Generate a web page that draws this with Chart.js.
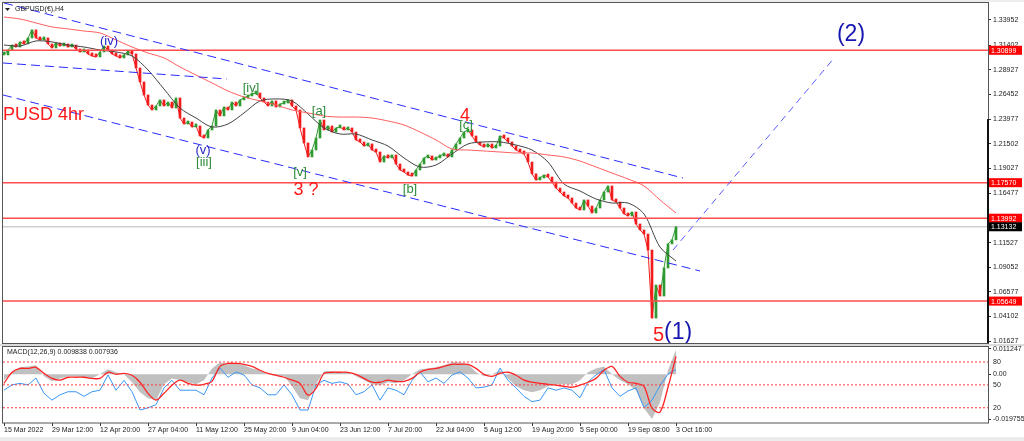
<!DOCTYPE html>
<html>
<head>
<meta charset="utf-8">
<title>GBPUSD H4</title>
<script src="https://cdn.jsdelivr.net/npm/chart.js@4.4.0/dist/chart.umd.min.js"></script>
<style>
  html, body { margin: 0; padding: 0; background: #fff; }
  #wrap { position: relative; width: 1024px; height: 441px; overflow: hidden; }
  #priceChart { position: absolute; left: 0; top: 0; }
  #macdChart { position: absolute; left: 0; top: 346px; }
</style>
</head>
<body>
<div id="wrap">
  <canvas id="priceChart" width="1024" height="346"></canvas>
  <canvas id="macdChart" width="1024" height="95"></canvas>
</div>
<script>
(function () {
  'use strict';

  // One slot = one candle column on the H4 chart. Closes are read every slot.
  const closes = [
    1.3043, 1.3093, 1.3143, 1.3123, 1.3174, 1.3154, 1.3214, 1.3295, 1.3214, 1.3194,
    1.3214, 1.3154, 1.3113, 1.3164, 1.3133, 1.3154, 1.3123, 1.3143, 1.3103, 1.3073,
    1.3093, 1.3053, 1.3033, 1.3023, 1.3073, 1.3133, 1.3093, 1.3053, 1.3033, 1.3013,
    1.3043, 1.3083, 1.3053, 1.2912, 1.2771, 1.2640, 1.2539, 1.2489, 1.2529, 1.2590,
    1.2529, 1.2569, 1.2509, 1.2610, 1.2408, 1.2348, 1.2368, 1.2318, 1.2328, 1.2227,
    1.2207, 1.2288, 1.2328, 1.2489, 1.2429, 1.2519, 1.2489, 1.2569, 1.2529, 1.2590,
    1.2610, 1.2630, 1.2650, 1.2660, 1.2610, 1.2569, 1.2529, 1.2580, 1.2519, 1.2549,
    1.2559, 1.2590, 1.2529, 1.2489, 1.2308, 1.2157, 1.2016, 1.2086, 1.2207, 1.2388,
    1.2288, 1.2328, 1.2267, 1.2308, 1.2318, 1.2288, 1.2308, 1.2267, 1.2187, 1.2167,
    1.2126, 1.2147, 1.2086, 1.2066, 1.1965, 1.2026, 1.2006, 1.2036, 1.1945, 1.1885,
    1.1865, 1.1834, 1.1824, 1.1885, 1.1945, 1.2006, 1.2026, 1.1985, 1.2006, 1.2026,
    1.2046, 1.2016, 1.2086, 1.2147, 1.2207, 1.2267, 1.2288, 1.2227, 1.2167, 1.2137,
    1.2116, 1.2147, 1.2106, 1.2126, 1.2227, 1.2207, 1.2167, 1.2126, 1.2086, 1.2066,
    1.2046, 1.1965, 1.1846, 1.1784, 1.1804, 1.1834, 1.1814, 1.1764, 1.1703, 1.1663,
    1.1623, 1.1603, 1.1552, 1.1502, 1.1482, 1.1583, 1.1522, 1.1452, 1.1502, 1.1583,
    1.1663, 1.1724, 1.1583, 1.1563, 1.1502, 1.1443, 1.1422, 1.1462, 1.1341, 1.1281,
    1.1240, 1.1079, 1.0394, 1.0727, 1.0616, 1.0898, 1.1141, 1.1181, 1.1313
  ];

  // Moving averages, read every 4 slots
  const maStep = 4;
  const maFast = [
    1.3143, 1.3133, 1.3184, 1.3174, 1.3143, 1.3123, 1.3093, 1.3073, 1.3033, 1.2892,
    1.2700, 1.2509, 1.2408, 1.2318, 1.2348, 1.2459, 1.2580, 1.2600, 1.2580, 1.2449,
    1.2308, 1.2247, 1.2247, 1.2187, 1.2126, 1.2006, 1.1915, 1.1935, 1.2046, 1.2147,
    1.2167, 1.2167, 1.2136, 1.2086, 1.1965, 1.1744, 1.1673, 1.1593, 1.1552, 1.1552,
    1.1442, 1.1109, 1.0968
  ];
  const maSlow = [
    1.3425, 1.3405, 1.3365, 1.3325, 1.3305, 1.3284, 1.3264, 1.3194, 1.3123, 1.3063,
    1.3013, 1.2922, 1.2841, 1.2761, 1.2680, 1.2620, 1.2580, 1.2539, 1.2489, 1.2459,
    1.2428, 1.2418, 1.2418, 1.2408, 1.2378, 1.2338, 1.2267, 1.2187, 1.2096, 1.2086,
    1.2076, 1.2066, 1.2056, 1.2056, 1.2036, 1.2016, 1.1975, 1.1915, 1.1854, 1.1794,
    1.1724, 1.1583, 1.1452
  ];

  const levels = [1.30899, 1.17570, 1.13992, 1.05649];
  const lastPrice = 1.13132;
  const priceTicks = [1.33952, 1.31402, 1.28927, 1.26452, 1.23977, 1.21502, 1.19027,
    1.16477, 1.11527, 1.09052, 1.06577, 1.04102, 1.01627];

  const dateTickSlots = [0, 12, 24, 36, 48, 60, 72, 84, 96, 108, 120, 132, 144, 156, 168];
  const dateTicks = ['15 Mar 2022', '29 Mar 12:00', '12 Apr 20:00', '27 Apr 04:00', '11 May 12:00',
    '25 May 20:00', '9 Jun 04:00', '23 Jun 12:00', '7 Jul 20:00', '22 Jul 04:00', '5 Aug 12:00',
    '19 Aug 20:00', '5 Sep 00:00', '19 Sep 08:00', '3 Oct 16:00'];

  // Trend lines as [slot, price] end points
  const channelTop = [[0, 1.3566], [169.75, 1.1804]];
  const channelMid = [[-0.25, 1.2962], [55.75, 1.2801]];
  const channelLow = [[-0.25, 1.2640], [174, 1.0868]];
  const projection = [[167.25, 1.1079], [207.75, 1.3023]];

  // Wave labels
  const waveText  = ['(iv)', '(v)', '[iii]', '[iv]', '[a]', '[v]', '3 ?', '4', '[c]', '[b]', '5', '(1)', '(2)', 'PUSD 4hr'];
  const waveSlot  = [26.25, 49.75, 50, 61.75, 78.75, 74, 75.5, 115.25, 115.5, 101.5, 165, 165, 211.75, -0.25];
  const wavePrice = [1.3184, 1.2086, 1.1966, 1.2711, 1.2470, 1.1856, 1.1683, 1.2430, 1.2330, 1.1693, 1.0223, 1.0243, 1.3244, 1.2439];
  const waveKind  = ['minor', 'minor', 'minute', 'minute', 'minute', 'minute', 'primary', 'primary',
    'minute', 'minute', 'primary5', 'degreeLeft', 'degree', 'title'];

  // MACD panel, read every 2 slots
  const macdStep = 2;
  const macdHist = [
    -0.0026, 0.0009, 0.0031, 0.0035, 0.0040, -0.0009, -0.0031, -0.0018, -0.0009, -0.0009,
    -0.0013, -0.0018, 0.0000, 0.0022, 0.0009, 0.0000, -0.0035, -0.0079, -0.0106, -0.0114,
    -0.0044, -0.0018, -0.0026, -0.0035, -0.0044, -0.0026, 0.0026, 0.0053, 0.0044, 0.0048,
    0.0040, 0.0026, 0.0018, 0.0000, -0.0009, -0.0009, -0.0053, -0.0106, -0.0114, -0.0044,
    0.0013, 0.0013, 0.0009, 0.0009, -0.0009, -0.0026, -0.0044, -0.0048, -0.0035, -0.0040,
    -0.0026, 0.0000, 0.0022, 0.0026, 0.0031, 0.0040, 0.0053, 0.0053, 0.0044, 0.0009,
    -0.0009, 0.0000, 0.0018, -0.0018, -0.0053, -0.0070, -0.0079, -0.0070, -0.0053, -0.0044,
    -0.0044, -0.0044, -0.0026, 0.0009, 0.0026, 0.0035, 0.0000, -0.0026, -0.0044, -0.0070,
    -0.0150, -0.0197, -0.0123, 0.0018, 0.0108
  ];
  const macdSignal = [
    -0.0040, 0.0009, 0.0026, 0.0026, 0.0031, 0.0004, -0.0018, -0.0026, -0.0013, -0.0013,
    -0.0013, -0.0018, -0.0018, 0.0009, 0.0000, 0.0004, -0.0004, -0.0035, -0.0084, -0.0114,
    -0.0084, -0.0048, -0.0026, -0.0040, -0.0048, -0.0044, -0.0031, 0.0035, 0.0048, 0.0048,
    0.0044, 0.0035, 0.0018, 0.0004, -0.0004, -0.0013, -0.0026, -0.0040, -0.0092, -0.0062,
    0.0004, 0.0009, 0.0009, 0.0009, 0.0000, -0.0018, -0.0035, -0.0035, -0.0026, -0.0031,
    -0.0031, -0.0018, 0.0009, 0.0022, 0.0026, 0.0035, 0.0044, 0.0044, 0.0044, 0.0026,
    0.0000, -0.0009, 0.0004, 0.0009, -0.0004, -0.0026, -0.0035, -0.0040, -0.0044, -0.0048,
    -0.0053, -0.0057, -0.0048, -0.0035, -0.0018, 0.0018, 0.0035, -0.0009, -0.0035, -0.0040,
    -0.0053, -0.0150, -0.0167, -0.0057, 0.0079
  ];
  const oscLine = [
    43, 50, 52, 50, 59, 39, 30, 37, 41, 41,
    35, 41, 43, 63, 43, 56, 41, 17, 20, 24,
    46, 56, 43, 43, 43, 37, 59, 72, 60, 67,
    63, 50, 46, 37, 37, 50, 37, 17, 17, 50,
    56, 52, 54, 51, 37, 41, 50, 30, 46, 43,
    37, 56, 67, 54, 59, 52, 63, 67, 59, 46,
    47, 50, 72, 56, 46, 35, 28, 30, 46, 43,
    46, 43, 33, 54, 63, 70, 46, 35, 42, 46,
    20, 30, 49, 64, 70
  ];
  const oscLevels = [80, 50, 20];
  const macdTicks = [0.011247, 0, -0.019755];

  const GREEN = '#2f9a2f';
  const RED = '#f21c1c';
  const FONT = '"Liberation Sans", Arial, sans-serif';
  const slotMin = -0.25;
  const slotMax = 246;

  const labelStyle = {
    minor:      { color: '#2525c8', font: '13px ' + FONT, align: 'center' },
    minute:     { color: '#2e8b3a', font: '13px ' + FONT, align: 'center' },
    primary:    { color: '#ff1a1a', font: '18px ' + FONT, align: 'center' },
    primary5:   { color: '#ff1a1a', font: '20px ' + FONT, align: 'right' },
    degree:     { color: '#1616b0', font: '23px ' + FONT, align: 'center' },
    degreeLeft: { color: '#1616b0', font: '23px ' + FONT, align: 'left' },
    title:      { color: '#ff1a1a', font: '18px ' + FONT, align: 'left' }
  };

  Chart.defaults.font.family = FONT;
  Chart.defaults.animation = false;

  function segmentLine(points, color, dash) {
    return {
      type: 'line',
      data: points.map(p => ({ x: p[0], y: p[1] })),
      borderColor: color,
      borderWidth: 1,
      borderDash: dash,
      pointRadius: 0,
      order: 1
    };
  }

  function hLine(value, color, width, order, yAxisID, dash) {
    return {
      type: 'line',
      data: [{ x: slotMin, y: value }, { x: slotMax, y: value }],
      borderColor: color,
      borderWidth: width,
      borderDash: dash || [],
      pointRadius: 0,
      yAxisID: yAxisID || 'y',
      order: order
    };
  }

  const fixedWidthAxis = function (scale) {
    scale.width = 36;
    scale.paddingTop = 0;
    scale.paddingBottom = 0;
  };

  // ---- price panel ----
  const priceDecor = {
    id: 'priceDecor',
    beforeDraw(chart) {
      const c = chart.ctx, a = chart.chartArea;
      c.save();
      c.fillStyle = '#fff';
      c.fillRect(0, 0, chart.width, chart.height);
      c.fillStyle = '#ededed';
      c.fillRect(0, 0, chart.width, 2);
      c.fillStyle = '#dcdcdc';
      c.fillRect(0, a.bottom + 1, chart.width, chart.height - a.bottom - 1);
      c.restore();
    },
    afterDatasetsDraw(chart) {
      const c = chart.ctx, a = chart.chartArea;
      const x = chart.scales.x, y = chart.scales.y;
      c.save();
      c.beginPath();
      c.rect(a.left, a.top, a.width, a.height);
      c.clip();
      c.textBaseline = 'middle';
      waveText.forEach((t, k) => {
        const st = labelStyle[waveKind[k]];
        c.font = st.font;
        c.fillStyle = st.color;
        c.textAlign = st.align;
        c.fillText(t, x.getPixelForValue(waveSlot[k]), y.getPixelForValue(wavePrice[k]));
      });
      c.restore();
    },
    afterDraw(chart) {
      const c = chart.ctx, a = chart.chartArea, y = chart.scales.y;
      c.save();
      c.strokeStyle = '#555';
      c.lineWidth = 1;
      c.strokeRect(a.left - 0.5, a.top - 0.5, a.width + 1, a.height + 1);
      // dark marker on the right edge of the price pane
      c.fillStyle = '#111';
      c.fillRect(a.right - 1, y.getPixelForValue(1.2397), 2, a.bottom - y.getPixelForValue(1.2397));

      c.font = '7px ' + FONT;
      c.textBaseline = 'middle';
      c.textAlign = 'left';
      const tag = (value, bg) => {
        const py = y.getPixelForValue(value);
        c.fillStyle = bg;
        c.fillRect(a.right + 1, py - 4.5, 33, 9);
        c.fillStyle = '#fff';
        c.fillText(value.toFixed(5), a.right + 3, py + 0.5);
      };
      levels.forEach(v => tag(v, '#ff0000'));
      tag(lastPrice, '#000');

      // symbol caption
      c.fillStyle = '#222';
      c.beginPath();
      c.moveTo(a.left + 2, a.top + 5);
      c.lineTo(a.left + 7, a.top + 5);
      c.lineTo(a.left + 4.5, a.top + 8);
      c.closePath();
      c.fill();
      c.fillText('GBPUSD(\u20ac),H4', a.left + 12, a.top + 6.5);
      c.restore();
    }
  };

  new Chart(document.getElementById('priceChart'), {
    type: 'bar',
    data: {
      datasets: [
        segmentLine(channelTop, '#2b2bff', [9, 5]),
        segmentLine(channelMid, '#2b2bff', [9, 5]),
        segmentLine(channelLow, '#2b2bff', [9, 5]),
        segmentLine(projection, '#5c5cff', [7, 5]),
        ...levels.map(v => hLine(v, '#ff4d4d', 1.5, 2)),
        hLine(lastPrice, '#cfcfcf', 1.5, 9),
        {
          type: 'line',
          data: maSlow.map((v, k) => ({ x: k * maStep, y: v })),
          borderColor: '#ff6060',
          borderWidth: 1,
          pointRadius: 0,
          tension: 0.3,
          order: 3
        },
        {
          type: 'line',
          data: maFast.map((v, k) => ({ x: k * maStep, y: v })),
          borderColor: '#444',
          borderWidth: 1,
          pointRadius: 0,
          tension: 0.3,
          order: 3
        },
        {
          type: 'bar',
          data: closes.map((c, i) => ({ x: i, y: [i === 0 ? c : closes[i - 1], c] })),
          backgroundColor: ctx => (ctx.raw && ctx.raw.y[1] >= ctx.raw.y[0] ? GREEN : RED),
          barThickness: 2,
          minBarLength: 3,
          grouped: false,
          order: 5
        },
        {
          type: 'line',
          data: closes.map((c, i) => ({ x: i, y: c })),
          borderWidth: 1,
          pointRadius: 0,
          segment: {
            borderColor: ctx => (ctx.p1.parsed.y >= ctx.p0.parsed.y ? GREEN : RED)
          },
          order: 6
        }
      ]
    },
    options: {
      responsive: false,
      devicePixelRatio: 1,
      events: [],
      layout: { padding: { left: 3, top: 3, right: 0, bottom: 3 } },
      plugins: { legend: { display: false }, tooltip: { enabled: false } },
      scales: {
        x: { type: 'linear', min: slotMin, max: slotMax, offset: false, display: false },
        y: {
          type: 'linear',
          position: 'right',
          min: 1.0143,
          max: 1.3566,
          afterFit: fixedWidthAxis,
          afterBuildTicks: s => { s.ticks = priceTicks.map(v => ({ value: v })); },
          grid: { drawOnChartArea: false, drawTicks: true, tickLength: 3, color: '#333' },
          border: { display: false },
          ticks: {
            autoSkip: false,
            padding: 2,
            color: '#222',
            font: { size: 7, lineHeight: 1 },
            callback: v => v.toFixed(5)
          }
        }
      }
    },
    plugins: [priceDecor]
  });

  // ---- MACD panel ----
  const macdDecor = {
    id: 'macdDecor',
    beforeDraw(chart) {
      const c = chart.ctx;
      c.save();
      c.fillStyle = '#fff';
      c.fillRect(0, 0, chart.width, chart.height);
      c.fillStyle = '#ececec';
      c.fillRect(0, chart.height - 4, chart.width, 4);
      c.restore();
    },
    afterDraw(chart) {
      const c = chart.ctx, a = chart.chartArea, osc = chart.scales.osc;
      c.save();
      c.strokeStyle = '#555';
      c.lineWidth = 1;
      c.strokeRect(a.left - 0.5, a.top + 0.5, a.width + 1, a.height - 0.5);
      c.font = '7px ' + FONT;
      c.fillStyle = '#222';
      c.textBaseline = 'middle';
      c.textAlign = 'left';
      c.fillText('MACD(12,26,9) 0.009838 0.007936', a.left + 4, a.top + 6.5);
      oscLevels.forEach(v => c.fillText(String(v), a.right + 5, osc.getPixelForValue(v)));
      c.restore();
    }
  };

  new Chart(document.getElementById('macdChart'), {
    type: 'line',
    data: {
      datasets: [
        ...oscLevels.map(v => hLine(v, '#ff3a3a', 1, 1, 'osc', [2, 2])),
        {
          data: macdSignal.map((v, k) => ({ x: k * macdStep, y: v })),
          borderColor: '#ff2424',
          borderWidth: 1.3,
          pointRadius: 0,
          tension: 0.3,
          order: 2
        },
        {
          data: oscLine.map((v, k) => ({ x: k * macdStep, y: v })),
          yAxisID: 'osc',
          borderColor: '#3b97f5',
          borderWidth: 1,
          pointRadius: 0,
          order: 3
        },
        {
          data: macdHist.map((v, k) => ({ x: k * macdStep, y: v })),
          borderWidth: 0,
          backgroundColor: '#c0c0c0',
          fill: 'origin',
          pointRadius: 0,
          order: 4
        }
      ]
    },
    options: {
      responsive: false,
      devicePixelRatio: 1,
      events: [],
      layout: { padding: { left: 3, top: 0, right: 0, bottom: 0 } },
      plugins: { legend: { display: false }, tooltip: { enabled: false } },
      scales: {
        x: {
          type: 'linear',
          min: slotMin,
          max: slotMax,
          offset: false,
          afterFit: s => { s.height = 18; s.paddingLeft = 0; s.paddingRight = 0; },
          afterBuildTicks: s => { s.ticks = dateTickSlots.map(v => ({ value: v })); },
          grid: { drawOnChartArea: false, drawTicks: true, tickLength: 3, color: '#333' },
          border: { display: false },
          ticks: {
            autoSkip: false,
            maxRotation: 0,
            align: 'start',
            padding: 1,
            color: '#222',
            font: { size: 7, lineHeight: 1 },
            callback: v => dateTicks[dateTickSlots.indexOf(v)]
          }
        },
        y: {
          type: 'linear',
          position: 'right',
          min: -0.0215,
          max: 0.0125,
          afterFit: fixedWidthAxis,
          afterBuildTicks: s => { s.ticks = macdTicks.map(v => ({ value: v })); },
          grid: { drawOnChartArea: false, drawTicks: true, tickLength: 3, color: '#333' },
          border: { display: false },
          ticks: {
            autoSkip: false,
            padding: 2,
            color: '#222',
            font: { size: 7, lineHeight: 1 },
            callback: v => (v === 0 ? '0.00' : v.toFixed(6))
          }
        },
        osc: { type: 'linear', display: false, min: 0, max: 101 }
      }
    },
    plugins: [macdDecor]
  });
})();
</script>
</body>
</html>
